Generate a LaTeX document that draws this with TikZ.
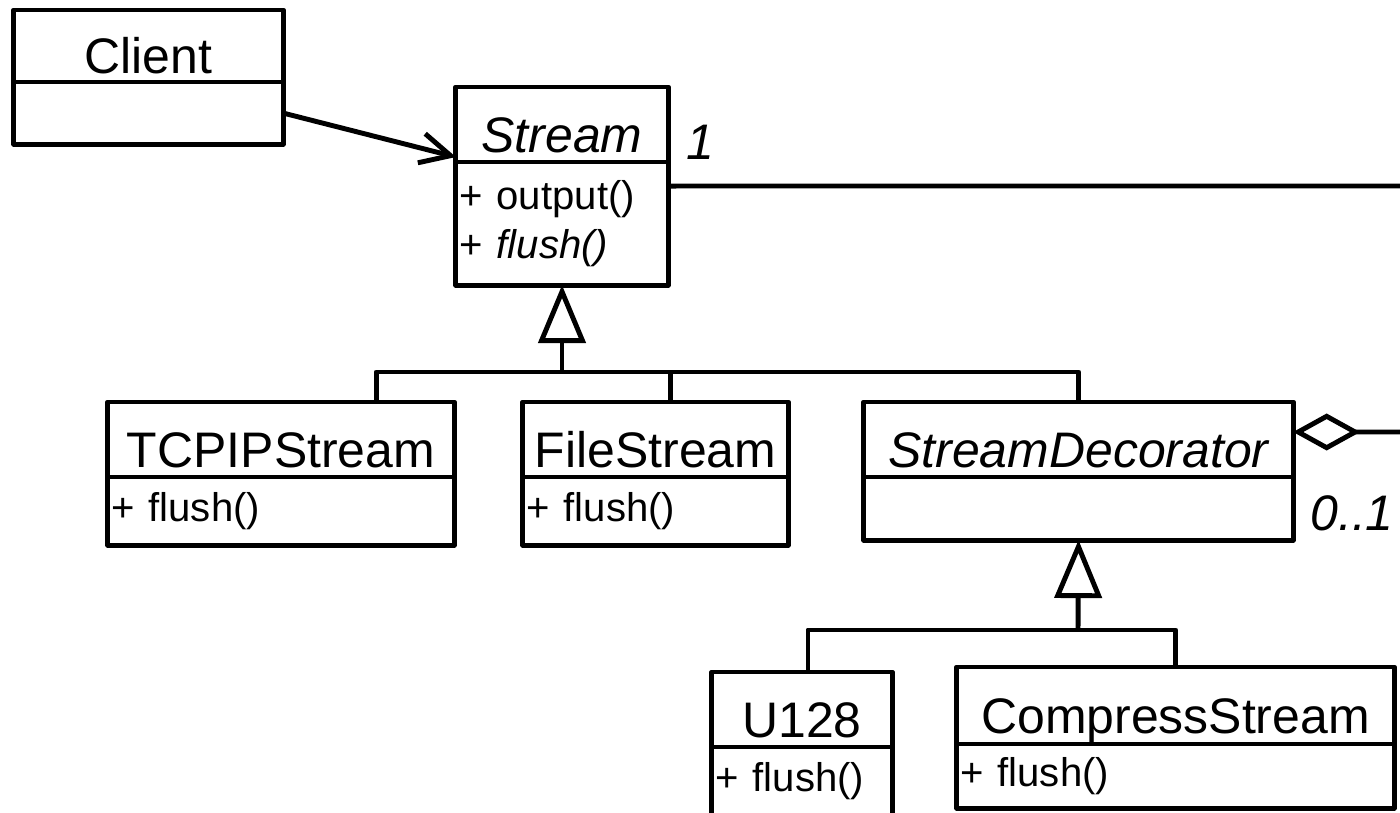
\documentclass[tikz,border=0pt]{standalone}
\usepackage{fontspec}
\setmainfont{Liberation Sans}
\usetikzlibrary{arrows.meta,positioning}

\begin{document}
\begin{tikzpicture}[x=0.01cm,y=-0.01cm,line width=1.4pt,line join=round,
  cls/.style={rectangle,draw,outer sep=0pt,inner sep=0pt,minimum width=#1,text height=0.55cm,text depth=0pt,font=\fontsize{14.2}{16}\selectfont},
  ops/.style={rectangle,draw,outer sep=0pt,inner xsep=0.04cm,inner ysep=0pt,text width=#1,align=left,font=\fontsize{11.4}{13.9}\selectfont},
  mult/.style={font=\fontsize{14.2}{16}\selectfont\itshape},
  gen/.style={-{Triangle[open,length=0.58cm,width=0.47cm]}}]

\useasboundingbox (0,0) rectangle (1400,812);
\clip (0,0) rectangle (1400,812);

% Client
\node[cls=2.69cm,minimum height=0.72cm] (client) at (148.5,46) {Client};
\node[ops=2.61cm,minimum height=0.62cm,below=0pt of client] (client_b) {};

% Stream
\node[cls=2.12cm,minimum height=0.75cm] (stream) at (562,124.5) {\itshape Stream};
\node[ops=2.04cm,minimum height=1.23cm,below=0pt of stream] (stream_b) {+ output()\\+ \textit{flush()}};

\node[mult] (m_one) at (700,142) {1};

% concrete streams
\node[cls=3.46cm,minimum height=0.75cm] (tcpip) at (281,439.5) {TCPIPStream};
\node[ops=3.38cm,minimum height=0.68cm,below=0pt of tcpip] (tcpip_b) {+ flush()};

\node[cls=2.65cm,minimum height=0.75cm] (file) at (655.5,439.5) {FileStream};
\node[ops=2.57cm,minimum height=0.68cm,below=0pt of file] (file_b) {+ flush()};

% decorator
\node[cls=4.29cm,minimum height=0.75cm] (sdec) at (1078.5,439.5) {\itshape StreamDecorator};
\node[ops=4.21cm,minimum height=0.63cm,below=0pt of sdec] (sdec_b) {};

\node[mult] (m_zero) at (1352,513) {0..1};

% concrete decorators
\node[cls=1.80cm,minimum height=0.75cm] (u128) at (802,709.5) {U128};
\node[ops=1.72cm,minimum height=0.68cm,below=0pt of u128] (u128_b) {+ flush()};

\node[cls=4.37cm,minimum height=0.77cm] (comp) at (1175.5,705.5) {CompressStream};
\node[ops=4.29cm,minimum height=0.64cm,below=0pt of comp] (comp_b) {+ flush()};

% client uses stream
\draw[-{Straight Barb[length=0.3cm,width=0.3cm]}] (client_b.east) -- ([yshift=0.05cm]stream.south west);

% inheritance from Stream
\coordinate (j1) at (562,372);
\draw[gen] (j1) -- (stream_b.south);
\draw ([xshift=0.95cm]tcpip.north) |- (j1) -| (sdec.north);
\coordinate (f_top) at ([xshift=0.15cm]file.north);
\draw (f_top) -- (f_top |- j1);

% inheritance from StreamDecorator
\coordinate (j2) at (1078,630);
\draw[gen] (j2) -- (sdec_b.south);
\draw ([xshift=0.06cm]u128.north) |- (j2) -| (comp.north);

% association and aggregation (leaving the picture)
\coordinate (a_end) at (1410,186);
\draw ([yshift=-0.24cm]stream_b.north east) -- (a_end);
\coordinate (g_end) at (1410,432);
\draw[{Diamond[open,length=0.67cm,width=0.37cm]}-] ([yshift=0.075cm]sdec.east) -- (g_end);

\end{tikzpicture}
\end{document}
